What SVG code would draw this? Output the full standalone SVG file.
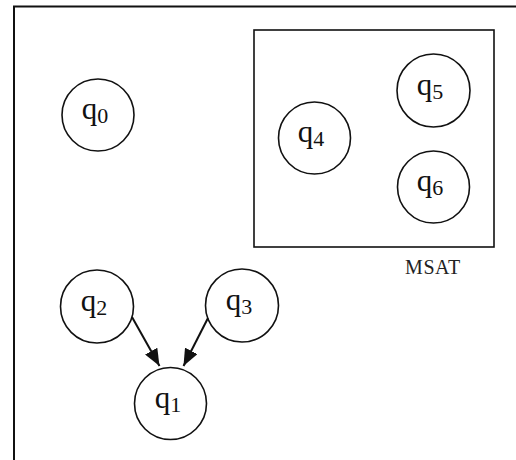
<svg xmlns="http://www.w3.org/2000/svg" width="516" height="460" viewBox="0 0 516 460">
  <style>
    .state circle { fill: #fff; stroke: #111; stroke-width: 1.6; }
    .state text { font-family: "Liberation Serif", "Times New Roman", serif; font-size: 31px; fill: #111; text-anchor: middle; }
    .state tspan { font-size: 22px; }
    .edge { stroke: #111; stroke-width: 2; fill: none; marker-end: url(#arrow); }
    .label { font-family: "Liberation Serif", "Times New Roman", serif; font-size: 20px; fill: #222; letter-spacing: 0.6px; }
  </style>
  <defs>
    <marker id="arrow" viewBox="0 0 17 14" refX="17" refY="7" markerWidth="17" markerHeight="14" markerUnits="userSpaceOnUse" orient="auto">
      <path d="M0,0 L17,7 L0,14 Z" fill="#111"/>
    </marker>
  </defs>
  <rect width="516" height="460" fill="#fff"/>

  <!-- page frame (top and left edges) -->
  <path d="M14,460 V6.5 H516" fill="none" stroke="#111" stroke-width="2"/>

  <!-- MSAT cluster -->
  <g id="msat">
    <rect x="254" y="30" width="240" height="217" fill="none" stroke="#111" stroke-width="1.6"/>
    <text class="label" x="405" y="274">MSAT</text>
  </g>

  <g id="q0" class="state">
    <circle cx="98" cy="115" r="36"/>
    <text x="95" y="119">q<tspan dy="4">0</tspan></text>
  </g>
  <g id="q1" class="state">
    <circle cx="170.5" cy="403.5" r="36"/>
    <text x="168" y="408">q<tspan dy="4">1</tspan></text>
  </g>
  <g id="q2" class="state">
    <circle cx="97" cy="306.5" r="36.5"/>
    <text x="94" y="311">q<tspan dy="4">2</tspan></text>
  </g>
  <g id="q3" class="state">
    <circle cx="242" cy="305.5" r="36.5"/>
    <text x="239" y="310">q<tspan dy="4">3</tspan></text>
  </g>
  <g id="q4" class="state">
    <circle cx="314.5" cy="138" r="36"/>
    <text x="311" y="142">q<tspan dy="4">4</tspan></text>
  </g>
  <g id="q5" class="state">
    <circle cx="433.5" cy="90.5" r="36.5"/>
    <text x="430" y="95">q<tspan dy="4">5</tspan></text>
  </g>
  <g id="q6" class="state">
    <circle cx="433.5" cy="187" r="36"/>
    <text x="430" y="191">q<tspan dy="4">6</tspan></text>
  </g>

  <g id="edges">
    <line class="edge" x1="132" y1="317" x2="159.5" y2="366"/>
    <line class="edge" x1="208" y1="318" x2="183.5" y2="366"/>
  </g>
</svg>
